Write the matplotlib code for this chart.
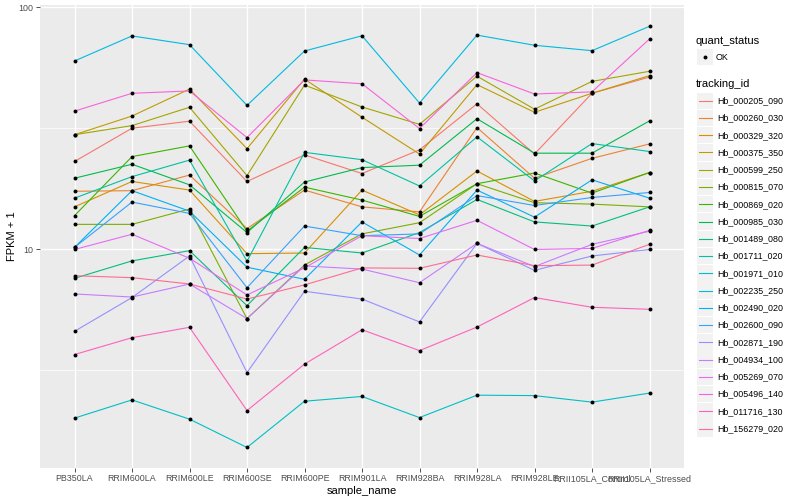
import numpy as np
import matplotlib.pyplot as plt
from matplotlib.patches import Rectangle
from matplotlib.ticker import FixedLocator, NullFormatter

plt.rcParams['font.family'] = ['Liberation Sans', 'DejaVu Sans']

samples = ['PB350LA', 'RRIM600LA', 'RRIM600LE', 'RRIM600SE', 'RRIM600PE', 'RRIM901LA',
           'RRIM928BA', 'RRIM928LA', 'RRIM928LE', 'RRII105LA_Control', 'RRII105LA_Stressed']

tracking_ids = ['Hb_000205_090', 'Hb_000260_030', 'Hb_000329_320', 'Hb_000375_350',
                'Hb_000599_250', 'Hb_000815_070', 'Hb_000869_020', 'Hb_000985_030',
                'Hb_001489_080', 'Hb_001711_020', 'Hb_001971_010', 'Hb_002235_250',
                'Hb_002490_020', 'Hb_002600_090', 'Hb_002871_190', 'Hb_004934_100',
                'Hb_005269_070', 'Hb_005496_140', 'Hb_011716_130', 'Hb_156279_020']

# ggplot default hue palette, 20 levels
colors = ['#F8766D', '#EA8331', '#D89000', '#C09B00', '#A3A500', '#7CAE00', '#39B600',
          '#00BB4E', '#00BF7D', '#00C1A3', '#00BFC4', '#00BAE0', '#00B0F6', '#35A2FF',
          '#9590FF', '#C77CFF', '#E76BF3', '#FA62DB', '#FF62BC', '#FF6C91']

# FPKM + 1, one list per gene, in sample order
hb_000205_090 = [23.1, 31.7, 33.9, 19.1, 24.6, 20.6, 25.8, 40.0, 24.8, 44.2, 51.6]
hb_000260_030 = [17.4, 17.5, 20.3, 12.2, 17.6, 15.0, 14.3, 31.9, 19.7, 23.8, 27.3]
hb_000329_320 = [15.0, 19.1, 17.6, 9.61, 9.67, 17.6, 13.9, 21.1, 15.8, 17.4, 20.8]
hb_000375_350 = [29.8, 35.6, 46.0, 26.1, 50.6, 35.2, 24.8, 48.0, 36.9, 44.2, 52.3]
hb_000599_250 = [29.8, 32.5, 38.7, 20.2, 47.8, 38.8, 32.9, 52.0, 38.0, 49.5, 54.5]
hb_000815_070 = [12.7, 12.7, 14.7, 5.18, 8.63, 11.6, 12.9, 18.7, 15.6, 15.4, 15.0]
hb_000869_020 = [13.8, 24.2, 26.8, 11.9, 18.1, 16.0, 13.7, 18.7, 20.7, 17.1, 20.8]
hb_000985_030 = [19.7, 22.5, 18.5, 11.75, 19.0, 21.8, 22.3, 34.7, 25.0, 25.0, 34.0]
hb_001489_080 = [7.60, 8.97, 9.89, 5.86, 10.2, 9.67, 11.75, 16.1, 13.0, 12.5, 15.0]
hb_001711_020 = [16.3, 20.0, 23.4, 8.94, 25.2, 23.5, 18.3, 29.2, 19.2, 27.4, 25.4]
hb_001971_010 = [2.01, 2.39, 1.99, 1.52, 2.36, 2.47, 2.02, 2.50, 2.49, 2.34, 2.55]
hb_002235_250 = [60.1, 76.3, 70.2, 39.4, 66.1, 76.4, 40.3, 76.9, 69.8, 66.3, 83.6]
hb_002490_020 = [10.2, 17.5, 14.4, 8.45, 7.53, 13.0, 9.49, 17.6, 13.6, 19.4, 16.3]
hb_002600_090 = [10.2, 15.7, 14.1, 6.95, 12.5, 11.4, 11.6, 16.7, 15.2, 16.4, 17.2]
hb_002871_190 = [4.59, 6.33, 9.40, 3.10, 6.72, 6.24, 5.02, 10.6, 8.2, 9.40, 10.0]
hb_004934_100 = [6.55, 6.36, 7.20, 5.18, 8.55, 8.3, 7.29, 10.6, 8.5, 10.5, 11.9]
hb_005269_070 = [10.0, 11.56, 9.20, 6.49, 8.4, 11.4, 11.1, 13.2, 10.0, 10.1, 12.0]
hb_005496_140 = [37.3, 44.2, 45.2, 29.0, 50.2, 48.4, 31.6, 53.8, 43.9, 44.8, 74.1]
hb_011716_130 = [3.68, 4.32, 4.77, 2.16, 3.36, 4.66, 3.82, 4.78, 6.33, 5.77, 5.66]
hb_156279_020 = [7.79, 7.65, 7.20, 6.24, 7.14, 8.39, 8.36, 9.49, 8.57, 8.62, 10.5]

series = [hb_000205_090, hb_000260_030, hb_000329_320, hb_000375_350, hb_000599_250,
          hb_000815_070, hb_000869_020, hb_000985_030, hb_001489_080, hb_001711_020,
          hb_001971_010, hb_002235_250, hb_002490_020, hb_002600_090, hb_002871_190,
          hb_004934_100, hb_005269_070, hb_005496_140, hb_011716_130, hb_156279_020]

W, H = 800, 500
fig = plt.figure(figsize=(W / 100, H / 100), dpi=100)
ax = fig.add_axes([40 / W, 1 - 468 / H, 644 / W, 463 / H])
ax.set_facecolor('#EBEBEB')
for s in ax.spines.values():
    s.set_visible(False)

x = np.arange(len(samples))
for vals, col in zip(series, colors):
    ax.plot(x, vals, color=col, lw=0.8, zorder=2)
for vals in series:
    ax.scatter(x, vals, s=8, color='black', zorder=3, linewidths=0)

ax.set_yscale('log')
ax.set_xlim(-0.6, len(samples) - 0.4)
ax.set_ylim(10 ** 0.097, 10 ** 2.0103)
ax.yaxis.set_major_locator(FixedLocator([10, 100]))
ax.yaxis.set_minor_locator(FixedLocator([10 ** 0.5, 10 ** 1.5]))
ax.yaxis.set_minor_formatter(NullFormatter())
ax.set_yticklabels(['10', '100'])
ax.set_xticks(x)
ax.set_xticklabels(samples)
ax.grid(which='major', color='white', lw=1.0, zorder=0)
ax.grid(which='minor', axis='y', color='white', lw=0.5, zorder=0)
ax.set_axisbelow(True)
ax.tick_params(which='major', length=3, width=0.6, color='#333333',
               labelsize=6.4, labelcolor='#4D4D4D', pad=1.5)
ax.tick_params(which='minor', length=0)
ax.set_xlabel('sample_name', fontsize=8, labelpad=2)
ax.set_ylabel('FPKM + 1', fontsize=8, labelpad=1)

# legend drawn in pixel coordinates
lg = fig.add_axes([0, 0, 1, 1], facecolor='none')
lg.set_xlim(0, W)
lg.set_ylim(H, 0)
lg.axis('off')
lg.text(696, 41, 'quant_status', fontsize=8, va='center', ha='left')
lg.add_patch(Rectangle((697, 49), 16, 16, color='#F2F2F2', lw=0))
lg.scatter([705], [57], s=8, color='black', zorder=3, linewidths=0)
lg.text(716, 57, 'OK', fontsize=6.4, va='center', ha='left')
lg.text(696, 84, 'tracking_id', fontsize=8, va='center', ha='left')
for i, (tid, col) in enumerate(zip(tracking_ids, colors)):
    yc = 100.7 + 17.26 * i
    lg.add_patch(Rectangle((697, yc - 8.2), 16, 16.4, color='#F2F2F2', lw=0))
    lg.plot([698.5, 711.5], [yc, yc], color=col, lw=0.8)
    lg.text(717, yc, tid, fontsize=6.4, va='center', ha='left')

fig.savefig('out.png', dpi=100)
